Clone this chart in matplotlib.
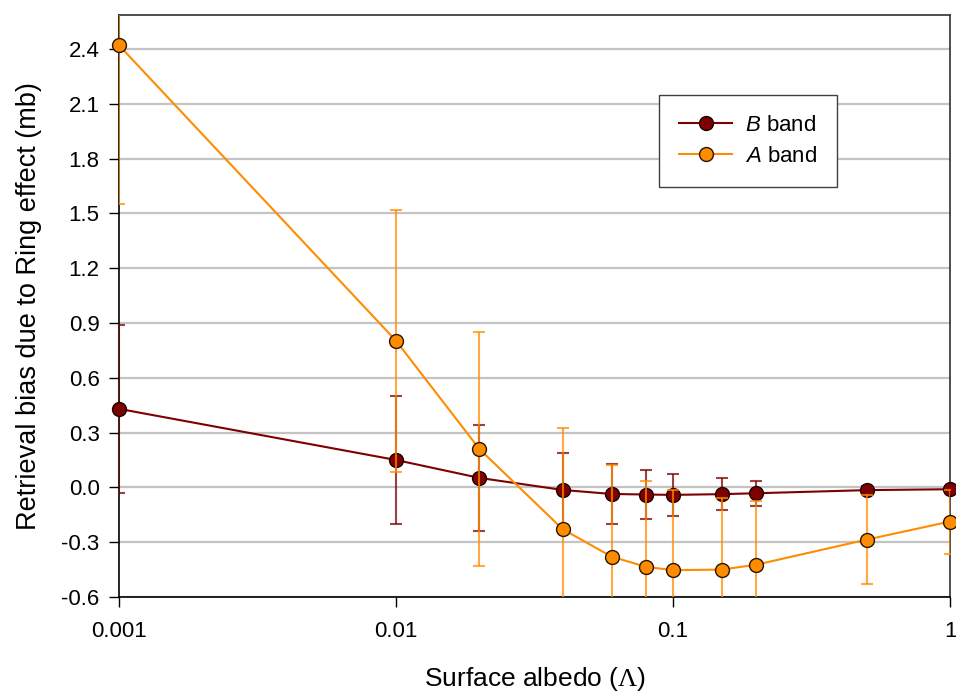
import matplotlib
matplotlib.use("Agg")
import matplotlib.pyplot as plt
import numpy as np

plt.rcParams['font.family'] = ['Liberation Sans', 'DejaVu Sans']
plt.rcParams['mathtext.fontset'] = 'custom'
plt.rcParams['mathtext.rm'] = 'Liberation Serif'
plt.rcParams['mathtext.it'] = 'Liberation Sans:italic'

albedo = [0.001, 0.01, 0.02, 0.04, 0.06, 0.08, 0.1, 0.15, 0.2, 0.5, 1.0]
b_band = [0.43, 0.15, 0.052, -0.014, -0.036, -0.039, -0.041, -0.037, -0.032, -0.015, -0.01]
b_err = [0.46, 0.35, 0.29, 0.20, 0.165, 0.136, 0.116, 0.086, 0.068, 0.02, 0.01]
a_band = [2.42, 0.803, 0.21, -0.229, -0.379, -0.435, -0.453, -0.45, -0.423, -0.286, -0.187]
a_err = [0.87, 0.717, 0.64, 0.556, 0.50, 0.47, 0.44, 0.39, 0.35, 0.245, 0.175]
yticks = [-0.6, -0.3, 0.0, 0.3, 0.6, 0.9, 1.2, 1.5, 1.8, 2.1, 2.4]
xticks = [0.001, 0.01, 0.1, 1]
xticklabels = ['0.001', '0.01', '0.1', '1']

b_col = '#7f0000'
a_col = '#ff8c00'

fig = plt.figure(figsize=(9.56, 6.96), dpi=100)
ax = fig.add_axes([119/956, 1-597/696, (950-119)/956, (597-15)/696])

ax.set_xscale('log')
ax.set_xlim(0.001, 1)
ax.set_ylim(-0.6, 2.586)

ax.set_yticks(yticks)
ax.set_yticklabels([f'{v:.1f}' for v in yticks])
ax.set_xticks(xticks)
ax.set_xticklabels(xticklabels)
ax.xaxis.set_minor_locator(matplotlib.ticker.NullLocator())
ax.yaxis.grid(True, color='#c4c4c4', lw=1.6)
ax.set_axisbelow(True)

ax.tick_params(axis='both', which='major', direction='out', length=7, width=1,
               labelsize=16, top=False, right=False)
ax.tick_params(axis='x', pad=10)
ax.tick_params(axis='y', pad=7)
for s in ['left', 'bottom']:
    ax.spines[s].set_color('black')
    ax.spines[s].set_linewidth(1.2)
for s in ['top', 'right']:
    ax.spines[s].set_color('#303030')
    ax.spines[s].set_linewidth(1.2)

# B band
ax.errorbar(albedo, b_band, yerr=b_err, fmt='none', ecolor=b_col, alpha=0.75,
            elinewidth=1.5, capsize=4.5, capthick=1.5, zorder=3)
ax.plot(albedo, b_band, '-o', color=b_col, lw=1.5, ms=10, mfc=b_col, mec='#1a0000',
        mew=1, clip_on=False, zorder=4, label=r'$\it{B}$ band')
# A band
ax.errorbar(albedo, a_band, yerr=a_err, fmt='none', ecolor=a_col, alpha=0.75,
            elinewidth=1.5, capsize=4.5, capthick=1.5, zorder=5)
ax.plot(albedo, a_band, '-o', color=a_col, lw=1.5, ms=10, mfc=a_col, mec='#2a1500',
        mew=1, clip_on=False, zorder=6, label=r'$\it{A}$ band')

ax.set_xlabel(r'Surface albedo ($\Lambda$)', fontsize=19)
ax.xaxis.set_label_coords(0.5, -0.117)
ax.set_ylabel('Retrieval bias due to Ring effect (mb)', fontsize=19.5)
ax.yaxis.set_label_coords(-0.093, 0.5)

leg = ax.legend(loc='upper left', bbox_to_anchor=((659-119)/831, (597-95)/582),
                borderaxespad=0, fontsize=16, fancybox=False, framealpha=1,
                edgecolor='#404040', borderpad=0.9, handlelength=2.4,
                handletextpad=0.55, labelspacing=0.45)
leg.get_frame().set_linewidth(1.0)

fig.savefig('out.png', dpi=100)
